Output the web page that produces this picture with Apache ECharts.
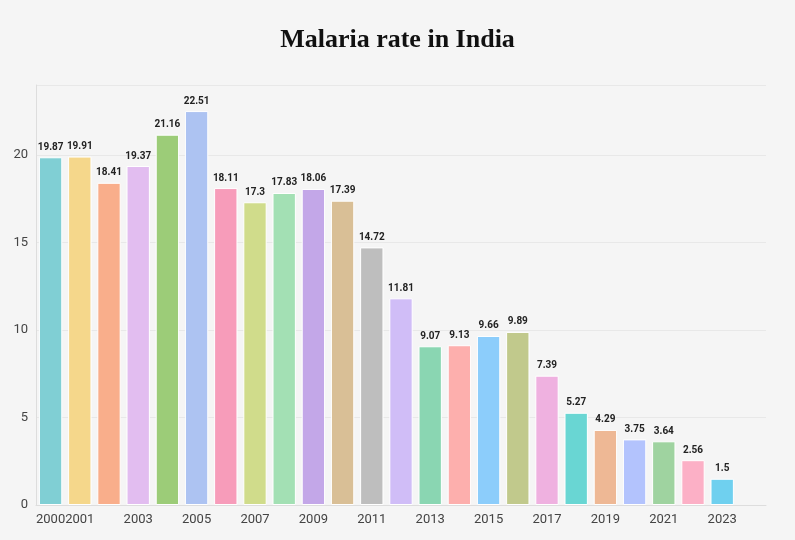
<!DOCTYPE html>
<html><head><meta charset="utf-8">
<script src="https://cdn.jsdelivr.net/npm/echarts@6/dist/echarts.min.js"></script>
<style>html,body{margin:0;padding:0;background:#f5f5f5}#c{width:795px;height:540px}</style>
</head><body><div id="c"></div>
<script>
const years = ['2000','2001','2002','2003','2004','2005','2006','2007','2008','2009','2010','2011','2012','2013','2014','2015','2016','2017','2018','2019','2020','2021','2022','2023'];
const rates = [19.87,19.91,18.41,19.37,21.16,22.51,18.11,17.3,17.83,18.06,17.39,14.72,11.81,9.07,9.13,9.66,9.89,7.39,5.27,4.29,3.75,3.64,2.56,1.5];
const colors = ['#80cfd4','#f5d78b','#f9ae8b','#e2bdf0','#9ccc78','#adc3f2','#f79cba','#d0dc8b','#a3e0b4','#c3a7e8','#d9bf96','#bebebe','#d0bdf7','#8ad6b2','#fdafad','#8ccdfb','#c1c98c','#efb1e0','#69d6d3','#eeb895','#b3c3fd','#9fd3a0','#fcb0c6','#6fd0ef'];
const chart = echarts.init(document.getElementById('c'));
chart.setOption({
  backgroundColor:'#f5f5f5',
  title:{text:'Malaria rate in India',left:'center',top:22,textStyle:{fontFamily:'Liberation Serif',fontSize:26,fontWeight:'bold',color:'#111'}},
  grid:{left:36,right:29,top:85,bottom:35},
  xAxis:{type:'category',data:years,max:24,axisTick:{show:false},axisLine:{lineStyle:{color:'#ddd'}},
    axisLabel:{interval:0,color:'#444',fontFamily:'Roboto',fontSize:13,formatter:(v,i)=>(i===0||i%2===1)?v:''}},
  yAxis:{type:'value',min:0,max:24,interval:5,axisLine:{show:true,lineStyle:{color:'#ddd'}},
    axisLabel:{showMaxLabel:false,color:'#444',fontFamily:'Roboto',fontSize:13},
    splitLine:{lineStyle:{color:'#e8e8e8'}}},
  series:[{type:'bar',barCategoryGap:'20%',
    data:rates.map((v,i)=>({value:v,itemStyle:{color:colors[i]}})),
    itemStyle:{borderColor:'#fff',borderWidth:1},
    label:{show:true,position:'top',color:'#222',fontFamily:'Roboto',fontWeight:'bold',fontSize:10}}]
});
</script></body></html>
